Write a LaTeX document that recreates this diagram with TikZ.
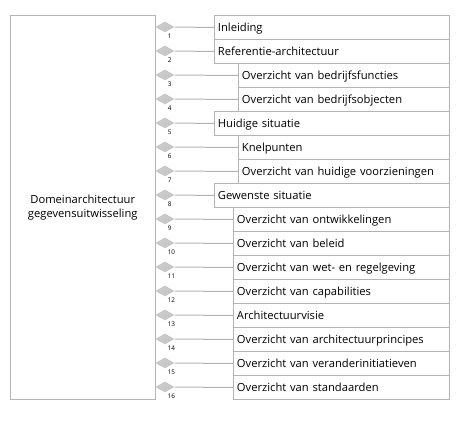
\documentclass[tikz,border=0pt]{standalone}
\usepackage{fontspec}
\setmainfont{Open Sans}
\usetikzlibrary{shapes.geometric}
\definecolor{linegray}{HTML}{B4B4B4}
\definecolor{diagray}{HTML}{C8C8C8}
\begin{document}
\begin{tikzpicture}[x=0.75pt,y=-0.75pt,
  every node/.style={font=\fontsize{8.4}{10.5}\selectfont},
  mainbox/.style={draw=linegray, line width=0.75pt, minimum width=108.375pt, minimum height=288pt, anchor=north west, inner sep=0, align=center, text=black},
  itembox/.style={draw=linegray, line width=0.75pt, minimum height=18pt, anchor=north west, inner sep=0, inner xsep=2.6pt, text=black, text depth=0pt},
  dia/.style={diamond, fill=diagray, draw=none, inner sep=0, minimum width=14.25pt, minimum height=8.25pt, aspect=1.727},
  num/.style={font=\fontsize{4.8}{5}\selectfont, anchor=west, inner sep=0, text=black},
  conn/.style={draw=linegray, line width=0.75pt}
]
\useasboundingbox (0,0) rectangle (460,421);
\node[mainbox] (main) at (10,15) {Domeinarchitectuur\\gegevensuitwisseling};
\foreach \i/\lx/\txt in {
  1/214/Inleiding,
  2/214/Referentie-architectuur,
  3/238/Overzicht van bedrijfsfuncties,
  4/238/Overzicht van bedrijfsobjecten,
  5/214/Huidige situatie,
  6/238/Knelpunten,
  7/238/Overzicht van huidige voorzieningen,
  8/214/Gewenste situatie,
  9/233/Overzicht van ontwikkelingen,
  10/233/Overzicht van beleid,
  11/233/Overzicht van wet- en regelgeving,
  12/233/Overzicht van capabilities,
  13/233/Architectuurvisie,
  14/233/Overzicht van architectuurprincipes,
  15/233/Overzicht van veranderinitiatieven,
  16/233/Overzicht van standaarden}{
  \pgfmathsetmacro{\ytop}{15+24*(\i-1)}
  \pgfmathsetmacro{\cy}{27+24*(\i-1)}
  \pgfmathsetmacro{\wpt}{0.75*(449.3-\lx)}
  \pgfmathsetmacro{\tw}{\wpt-5.2}
  \node[itembox, minimum width=\wpt pt, text width=\tw pt, align=left] (b\i) at (\lx,\ytop) {\txt};
  \node[dia] (d\i) at (165,\cy) {};
  \node[num] (n\i) at (167.5,\cy+9.5) {\i};
  \draw[conn] (d\i.east) -- (b\i.west);
}
\end{tikzpicture}
\end{document}
